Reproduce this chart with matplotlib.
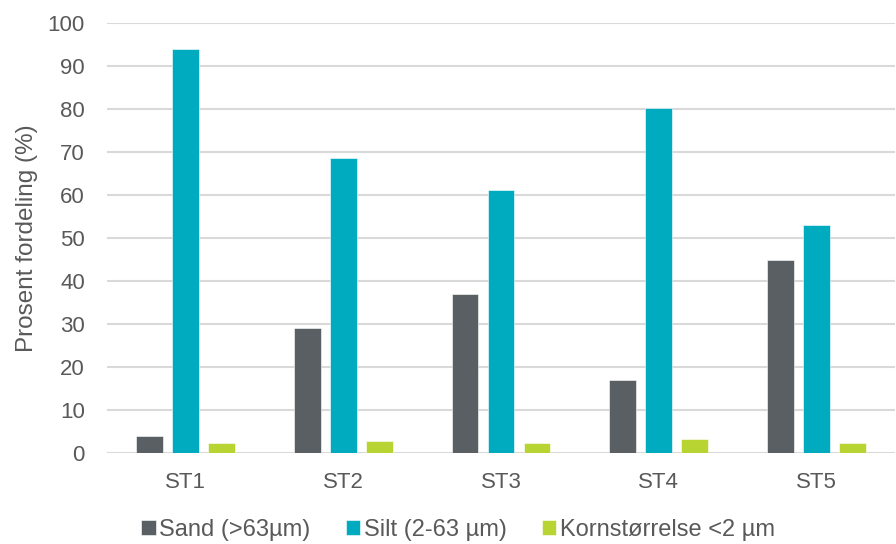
import matplotlib
matplotlib.use("Agg")
import matplotlib.pyplot as plt
import numpy as np

categories = ["ST1", "ST2", "ST3", "ST4", "ST5"]
series_names = ["Sand (>63µm)", "Silt (2-63 µm)", "Kornstørrelse <2 µm"]
sand = [3.9, 29.0, 37.0, 17.0, 45.0]
silt = [94.0, 68.6, 61.2, 80.2, 53.0]
clay = [2.4, 2.7, 2.3, 3.2, 2.3]
colors = ["#5a5f63", "#00abbf", "#b8d432"]

plt.rcParams['font.family'] = ['Liberation Sans', 'DejaVu Sans']

fig = plt.figure(figsize=(8.96, 5.44), dpi=100)
ax = fig.add_axes([107/896, 1-453/544, (895-107)/896, (453-23)/544])

x = np.arange(len(categories))
step = 0.228
width = 0.17
handles = []
for i, (vals, c, name) in enumerate(zip([sand, silt, clay], colors, series_names)):
    h = ax.bar(x + (i-1)*step, vals, width, color=c, label=name, zorder=3,
               edgecolor='white', linewidth=0.4)
    handles.append(h)

ax.set_xlim(-0.5, len(categories)-0.5)
ax.set_ylim(0, 100)
ax.set_yticks(range(0, 101, 10))
ax.set_xticks(x)
ax.set_xticklabels(categories)
ax.yaxis.grid(True, color='#d9d9d9', linewidth=1.5, zorder=0)
ax.set_axisbelow(True)
for s in ax.spines.values():
    s.set_visible(False)
ax.tick_params(axis='both', length=0, labelsize=16, colors='#595959')
ax.tick_params(axis='x', pad=14)
ax.tick_params(axis='y', pad=16)
ax.set_ylabel("Prosent fordeling (%)", fontsize=17.5, color='#595959')
ax.yaxis.set_label_coords(-(107-38)/788, 0.5)

fig.legend(handles=handles, loc='center', bbox_to_anchor=(458/896, 1-530/544),
           ncol=3, frameon=False, fontsize=17, labelcolor='#595959',
           handlelength=0.6, handleheight=0.6, handletextpad=0.15, columnspacing=1.5)

fig.savefig("out.png", dpi=100)
